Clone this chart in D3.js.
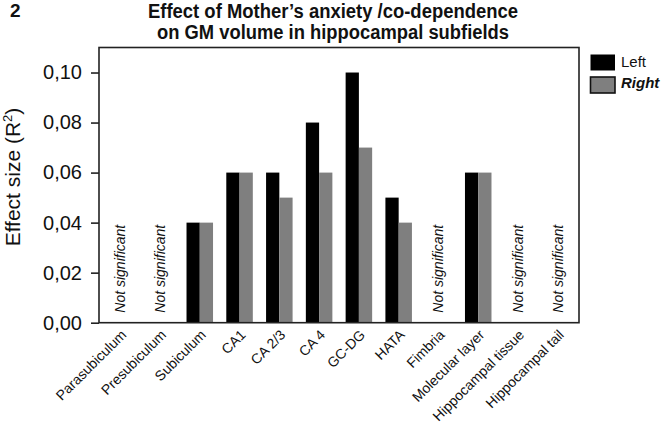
<!DOCTYPE html>
<html>
<head>
<meta charset="utf-8">
<script src="https://cdn.jsdelivr.net/npm/d3@7"></script>
<style>
  html, body { margin: 0; padding: 0; background: #fff; }
  svg { display: block; font-family: "Liberation Sans", Arial, sans-serif; }
</style>
</head>
<body>
<svg id="chart" width="666" height="426"></svg>
<script>
// ---- data ----
const categories = ["Parasubiculum", "Presubiculum", "Subiculum", "CA1", "CA 2/3", "CA 4",
  "GC-DG", "HATA", "Fimbria", "Molecular layer", "Hippocampal tissue", "Hippocampal tail"];
const seriesNames = ["Left", "Right"];
const leftValues  = [null, null, 0.04, 0.06, 0.06, 0.08, 0.10, 0.05, null, 0.06, null, null];
const rightValues = [null, null, 0.04, 0.06, 0.05, 0.06, 0.07, 0.04, null, 0.06, null, null];
const yTicks = [0, 0.02, 0.04, 0.06, 0.08, 0.10];
const titleLines = ["Effect of Mother\u2019s anxiety /co-dependence", "on GM volume in hippocampal subfields"];
const panelLabel = "2";
const nsLabel = "Not significant";

// ---- layout ----
const svg = d3.select("#chart");
const pLeft = 99, pRight = 579, pTop = 47.5, pBottom = 322.7;
const colors = { Left: "#000000", Right: "#7f7f7f" };

const x0 = d3.scaleBand().domain(categories).range([pLeft, pRight])
  .paddingInner(1 / 3).paddingOuter(0.2);
const x1 = d3.scaleBand().domain(seriesNames).range([0, x0.bandwidth()]).padding(0);
const y = d3.scaleLinear().domain([0, 0.11]).range([pBottom, pTop]);

// bars
const rows = categories.map((c, i) => ({ cat: c, vals: [
  { s: "Left", v: leftValues[i] }, { s: "Right", v: rightValues[i] }] }));

const g = svg.append("g");
rows.forEach(r => {
  r.vals.forEach(d => {
    if (d.v == null) return;
    g.append("rect")
      .attr("x", x0(r.cat) + x1(d.s))
      .attr("y", y(d.v))
      .attr("width", x1.bandwidth())
      .attr("height", y(0) - y(d.v))
      .attr("fill", colors[d.s]);
  });
  if (r.vals.every(d => d.v == null)) {
    const cx = x0(r.cat) + x0.bandwidth() / 2;
    svg.append("text")
      .attr("transform", `translate(${cx},${pBottom - 10}) rotate(-90)`)
      .attr("dy", "0.35em")
      .attr("font-size", 14)
      .attr("font-style", "italic")
      .attr("fill", "#111")
      .text(nsLabel);
  }
});

// frame
svg.append("rect")
  .attr("x", pLeft).attr("y", pTop)
  .attr("width", pRight - pLeft).attr("height", pBottom - pTop)
  .attr("fill", "none").attr("stroke", "#222").attr("stroke-width", 1.6);

// y axis
const yAxis = d3.axisLeft(y).tickValues(yTicks).tickSize(8).tickPadding(9)
  .tickFormat(d => d3.format(".2f")(d).replace(".", ","));
const ya = svg.append("g").attr("transform", `translate(${pLeft},0)`).call(yAxis);
ya.select(".domain").remove();
ya.selectAll(".tick line").attr("stroke", "#222").attr("stroke-width", 1.6);
ya.selectAll(".tick text").attr("font-size", 20).attr("fill", "#111")
  .attr("font-family", "'Liberation Sans', Arial, sans-serif");

// x axis labels
const xAxis = d3.axisBottom(x0).tickSize(0).tickPadding(0);
const xa = svg.append("g").attr("transform", `translate(0,${pBottom})`).call(xAxis);
xa.select(".domain").remove();
xa.selectAll(".tick text")
  .attr("font-size", 14).attr("fill", "#111")
  .attr("font-family", "'Liberation Sans', Arial, sans-serif")
  .attr("text-anchor", "end")
  .attr("dy", null).attr("y", null)
  .attr("transform", "translate(7,13) rotate(-45)");

// y label
svg.append("text")
  .attr("transform", `translate(20,177) rotate(-90)`)
  .attr("text-anchor", "middle")
  .attr("font-size", 21).attr("fill", "#111")
  .html('Effect size (R<tspan dy="-8" font-size="13">2</tspan><tspan dy="8">)</tspan>');

// title
svg.append("text").attr("x", 10).attr("y", 17)
  .attr("font-size", 19).attr("font-weight", "bold").attr("fill", "#111").text(panelLabel);
const titleWidths = [370, 352];
titleLines.forEach((t, i) => {
  svg.append("text")
    .attr("x", 333).attr("y", 18 + i * 21)
    .attr("text-anchor", "middle")
    .attr("font-size", 19.5).attr("font-weight", "bold").attr("fill", "#111")
    .attr("textLength", titleWidths[i]).attr("lengthAdjust", "spacingAndGlyphs")
    .text(t);
});

// legend
const legend = svg.append("g");
seriesNames.forEach((s, i) => {
  legend.append("rect")
    .attr("x", 590.5).attr("y", 54.5 + i * 22.5)
    .attr("width", 24.5).attr("height", 16)
    .attr("fill", colors[s])
    .attr("stroke", "#111").attr("stroke-width", s === "Right" ? 1.6 : 0);
  legend.append("text")
    .attr("x", 621).attr("y", 67 + i * 21)
    .attr("font-size", 15).attr("fill", "#111")
    .attr("font-weight", s === "Right" ? "bold" : "normal")
    .attr("font-style", s === "Right" ? "italic" : "normal")
    .text(s);
});
</script>
</body>
</html>
